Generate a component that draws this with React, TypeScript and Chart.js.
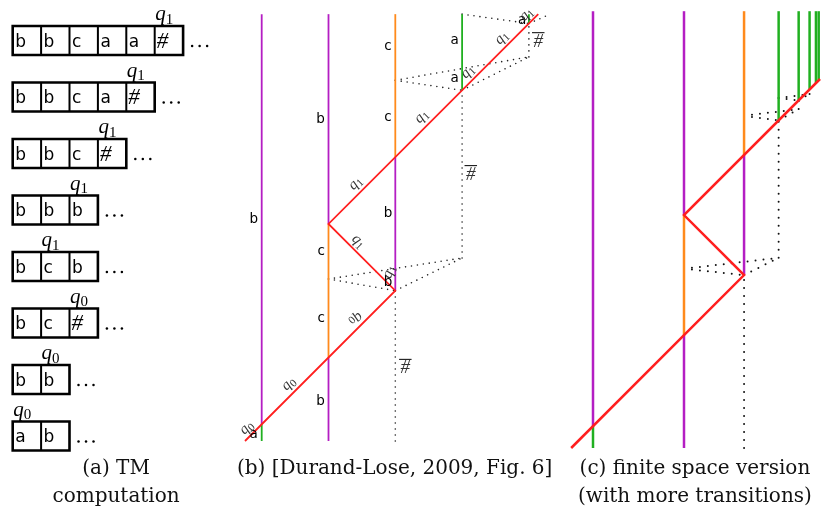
import React, { useEffect, useRef } from "react";
import { Chart, registerables } from "chart.js";
Chart.register(...registerables);

const W = 822;
const H = 518;

// ---------- (a) TM computation : tape contents, head cell, head state ----------
const tapeRows: string[][] = [
  ["b", "b", "c", "a", "a", "#"],
  ["b", "b", "c", "a", "#"],
  ["b", "b", "c", "#"],
  ["b", "b", "b"],
  ["b", "c", "b"],
  ["b", "c", "#"],
  ["b", "b"],
  ["a", "b"],
];
const headCells = [5, 4, 3, 2, 1, 2, 1, 0];
const headStates = ["1", "1", "1", "1", "1", "0", "0", "0"];

// ---------- (b) signal machine (space s, time t) ----------
type Seg = [number, number, number, number];
const bMagenta: Seg[] = [[0, 0.25, 0, 6.39], [1, 0, 1, 1.25], [1, 3.25, 1, 6.39], [2, 2.25, 2, 4.25]];
const bOrange: Seg[] = [[1, 1.25, 1, 3.25], [2, 4.25, 2, 6.39]];
const bGreen: Seg[] = [[0, 0, 0, 0.25], [3, 5.25, 3, 6.39], [4, 6.25, 4, 6.39]];
const bRed: [number, number][] = [[-0.25, 0], [2, 2.25], [1, 3.25], [4.14, 6.39]];
const bDotted: Seg[] = [
  [2, 0, 2, 2.25], [1, 2.425, 2, 2.25], [1, 2.425, 3, 2.74], [2, 2.25, 3, 2.74], [3, 2.74, 3, 5.25],
  [2, 5.4, 3, 5.25], [2, 5.4, 4, 5.75], [3, 5.25, 4, 5.75], [4, 5.75, 4, 6.25],
  [3, 6.39, 4, 6.25], [4, 6.25, 4.32, 6.39],
];
const bLetters: [number, number, string][] = [
  [-0.12, 3.31, "b"], [0.88, 4.81, "b"], [1.89, 5.9, "c"], [1.89, 4.84, "c"],
  [2.89, 5.99, "a"], [2.89, 5.42, "a"], [3.9, 6.3, "a"], [1.89, 3.4, "b"],
  [0.89, 2.83, "c"], [0.89, 1.83, "c"], [1.89, 2.38, "b"], [0.88, 0.59, "b"], [-0.12, 0.1, "a"],
];
// s, t, state index, angle (deg)
const bStates: [number, number, string, number][] = [
  [-0.22, 0.19, "0", -45], [0.41, 0.85, "0", -45], [1.41, 1.83, "0", 135],
  [1.44, 2.98, "1", 45], [1.92, 2.53, "1", -70], [1.41, 3.85, "1", -45],
  [2.4, 4.85, "1", -45], [3.09, 5.52, "1", -45], [3.6, 6.03, "1", -45], [3.97, 6.38, "1", -45],
];
const bHashes: [number, number][] = [[3.13, 4.01], [4.14, 6.0], [2.15, 1.11]];

// ---------- (c) finite space version ----------
const cMagenta: Seg[] = [[0, 2.4, 0, 48], [10, 0, 10, 12.4], [10, 25.6, 10, 48], [16.6, 19.0, 16.6, 32.2]];
const cOrange: Seg[] = [[10, 12.4, 10, 25.6], [16.6, 32.2, 16.6, 48]];
const cGreen: Seg[] = [
  [0, 0, 0, 2.4], [20.4, 36.0, 20.4, 48], [22.6, 38.2, 22.6, 48],
  [23.8, 39.4, 23.8, 48], [24.5, 40.1, 24.5, 48], [24.8, 40.4, 24.8, 48],
];
const cRed: [number, number][] = [[-2.4, 0], [16.6, 19.0], [10, 25.6], [24.95, 40.55]];
const cDotted: Seg[] = [
  [16.6, 0, 16.6, 19.0], [10, 19.7, 16.6, 19.0], [10, 19.7, 20.4, 20.9], [16.6, 19.0, 20.4, 20.9],
  [20.4, 20.9, 20.4, 36.0], [16.6, 36.5, 20.4, 36.0], [16.6, 36.5, 22.6, 37.25], [20.4, 36.0, 22.6, 37.25],
  [22.6, 37.25, 22.6, 38.2], [20.4, 38.46, 22.6, 38.2], [20.4, 38.46, 23.8, 38.9], [22.6, 38.2, 23.8, 38.9],
  [23.8, 38.9, 23.8, 39.4],
];

// ---------- captions: [panel, x, y, text] ----------
const captions: [string, number, number, string][] = [
  ["A", 3.64, 7.84, "(a) TM"],
  ["A", 3.64, 8.34, "computation"],
  ["B", 1.99, -0.42, "(b) [Durand-Lose, 2009, Fig. 6]"],
  ["C", 11.2, -2.3, "(c) finite space version"],
  ["C", 11.2, -5.4, "(with more transitions)"],
];

const CELL_H = 0.513;
const MAGENTA = "#b41ec3";
const ORANGE = "#ff8a1c";
const GREEN = "#20b020";
const RED = "#ff1f1f";

function line(points: [number, number][], color: string, width: number, axes: string, opts: any = {}) {
  return {
    data: points.map(([x, y]) => ({ x, y })),
    showLine: true,
    borderColor: color,
    backgroundColor: color,
    borderWidth: width,
    pointRadius: 0,
    pointHoverRadius: 0,
    fill: false,
    tension: 0,
    xAxisID: "x" + axes,
    yAxisID: "y" + axes,
    borderCapStyle: "butt",
    borderJoinStyle: "miter",
    ...opts,
  };
}
const segs = (list: Seg[], color: string, width: number, axes: string, opts: any = {}) =>
  list.map((s) => line([[s[0], s[1]], [s[2], s[3]]], color, width, axes, opts));

function drawState(ctx: CanvasRenderingContext2D, x: number, y: number, sub: string, angle: number, size: number, align: "left" | "center") {
  ctx.save();
  ctx.translate(x, y);
  ctx.rotate((angle * Math.PI) / 180);
  const qFont = `italic ${size}px "Liberation Serif"`;
  const sFont = `${Math.round(size * 0.7)}px "Liberation Serif"`;
  ctx.font = qFont;
  const wq = ctx.measureText("q").width;
  ctx.font = sFont;
  const ws = ctx.measureText(sub).width;
  const x0 = align === "left" ? 0 : -(wq + ws) / 2;
  const base = align === "left" ? 0 : size * 0.2;
  ctx.textAlign = "left";
  ctx.textBaseline = "alphabetic";
  ctx.font = qFont;
  ctx.fillText("q", x0, base);
  ctx.font = sFont;
  ctx.fillText(sub, x0 + wq, base + size * 0.17);
  ctx.restore();
}

const textPlugin = {
  id: "diagramTexts",
  afterDatasetsDraw(chart: any) {
    const ctx: CanvasRenderingContext2D = chart.ctx;
    const sc = chart.scales;
    ctx.save();
    ctx.fillStyle = "#000";
    ctx.strokeStyle = "#000";
    // (a) tapes
    tapeRows.forEach((row, r) => {
      const top = sc.yA.getPixelForValue(r);
      const bot = sc.yA.getPixelForValue(r + CELL_H);
      const mid = (top + bot) / 2;
      row.forEach((sym, c) => {
        const left = sc.xA.getPixelForValue(c);
        ctx.textAlign = "left";
        ctx.textBaseline = "alphabetic";
        if (sym === "#") {
          ctx.font = 'italic 23px "Liberation Serif"';
          ctx.fillText(sym, left + 2, mid + 7.5);
        } else {
          ctx.font = '17px "DejaVu Sans"';
          ctx.fillText(sym, left + 2.5, mid + 6.5);
        }
      });
      const end = sc.xA.getPixelForValue(row.length);
      for (let i = 0; i < 3; i++) {
        ctx.beginPath();
        ctx.arc(end + 9 + i * 7.5, mid + 5.5, 1.25, 0, Math.PI * 2);
        ctx.fill();
      }
      drawState(ctx, sc.xA.getPixelForValue(headCells[r]) + 0.5, top - 6, headStates[r], 0, 21, "left");
    });
    // (b) letters
    ctx.font = '13.5px "DejaVu Sans"';
    ctx.textAlign = "center";
    ctx.textBaseline = "middle";
    bLetters.forEach(([s, t, ch]) => {
      ctx.fillText(ch, sc.xB.getPixelForValue(s), sc.yB.getPixelForValue(t));
    });
    ctx.fillStyle = "#333";
    bStates.forEach(([s, t, sub, a]) => {
      drawState(ctx, sc.xB.getPixelForValue(s), sc.yB.getPixelForValue(t), sub, a, 15, "center");
    });
    bHashes.forEach(([s, t]) => {
      const x = sc.xB.getPixelForValue(s);
      const y = sc.yB.getPixelForValue(t);
      ctx.font = 'italic 19px "Liberation Serif"';
      ctx.textAlign = "center";
      ctx.textBaseline = "middle";
      ctx.fillText("#", x, y + 1.5);
      const w = ctx.measureText("#").width;
      ctx.lineWidth = 1;
      ctx.beginPath();
      ctx.moveTo(x - w / 2 - 1.5, y - 7.5);
      ctx.lineTo(x + w / 2 + 1.5, y - 7.5);
      ctx.stroke();
    });
    // captions
    ctx.fillStyle = "#111";
    ctx.font = '20px "DejaVu Serif"';
    ctx.textAlign = "center";
    ctx.textBaseline = "middle";
    captions.forEach(([p, x, y, text]) => {
      ctx.fillText(text, sc["x" + p].getPixelForValue(x), sc["y" + p].getPixelForValue(y));
    });
    ctx.restore();
  },
};

function buildDatasets() {
  const ds: any[] = [];
  // (a) tape boxes
  tapeRows.forEach((row, r) => {
    const n = row.length;
    ds.push(
      line([[0, r], [n, r], [n, r + CELL_H], [0, r + CELL_H], [0, r], [n, r]], "#000", 2.6, "A", { borderCapStyle: "square", order: 2 })
    );
    for (let c = 1; c < n; c++) ds.push(line([[c, r], [c, r + CELL_H]], "#000", 2, "A", { order: 2 }));
  });
  const dotB = { borderDash: [0, 6], borderCapStyle: "round", order: 3 };
  const dotC = { borderDash: [0, 8], borderCapStyle: "round", order: 3 };
  ds.push(...segs(bDotted, "#222", 1.6, "B", dotB));
  ds.push(...segs(cDotted, "#111", 2.0, "C", dotC));
  ds.push(...segs(bMagenta, MAGENTA, 1.8, "B", { order: 2 }));
  ds.push(...segs(bOrange, ORANGE, 1.8, "B", { order: 2 }));
  ds.push(...segs(bGreen, GREEN, 1.8, "B", { order: 2 }));
  ds.push(...segs(cMagenta, MAGENTA, 2.5, "C", { order: 2 }));
  ds.push(...segs(cOrange, ORANGE, 2.5, "C", { order: 2 }));
  ds.push(...segs(cGreen, GREEN, 2.5, "C", { order: 2 }));
  ds.push(line(bRed, RED, 1.8, "B", { order: 1 }));
  ds.push(line(cRed, RED, 2.5, "C", { order: 1 }));
  return ds;
}

const hidden = (axis: "x" | "y", min: number, max: number, reverse = false) => ({
  type: "linear",
  axis,
  min,
  max,
  reverse,
  display: false,
  grid: { display: false },
  ticks: { display: false },
});

export default function App() {
  const ref = useRef<HTMLCanvasElement>(null);
  useEffect(() => {
    if (!ref.current) return;
    const chart = new Chart(ref.current, {
      type: "scatter",
      data: { datasets: buildDatasets() },
      options: {
        animation: false,
        responsive: false,
        devicePixelRatio: window.devicePixelRatio || 1,
        layout: { padding: 0 },
        plugins: { legend: { display: false }, tooltip: { enabled: false } },
        events: [],
        scales: {
          xA: hidden("x", -12.7 / 28.4, (W - 12.7) / 28.4),
          yA: hidden("y", -26 / 56.5, (H - 26) / 56.5, true),
          xB: hidden("x", -261.7 / 66.8, (W - 261.7) / 66.8),
          yB: hidden("y", (441 - H) / 66.8, 441 / 66.8),
          xC: hidden("x", -593 / 9.1, (W - 593) / 9.1),
          yC: hidden("y", (448 - H) / 9.1, 448 / 9.1),
        },
      } as any,
      plugins: [textPlugin],
    } as any);
    return () => chart.destroy();
  }, []);
  return (
    <div style={{ position: "absolute", left: 0, top: 0, width: W, height: H, background: "#fff" }}>
      <canvas ref={ref} width={W} height={H} style={{ display: "block", width: W, height: H }} />
    </div>
  );
}
